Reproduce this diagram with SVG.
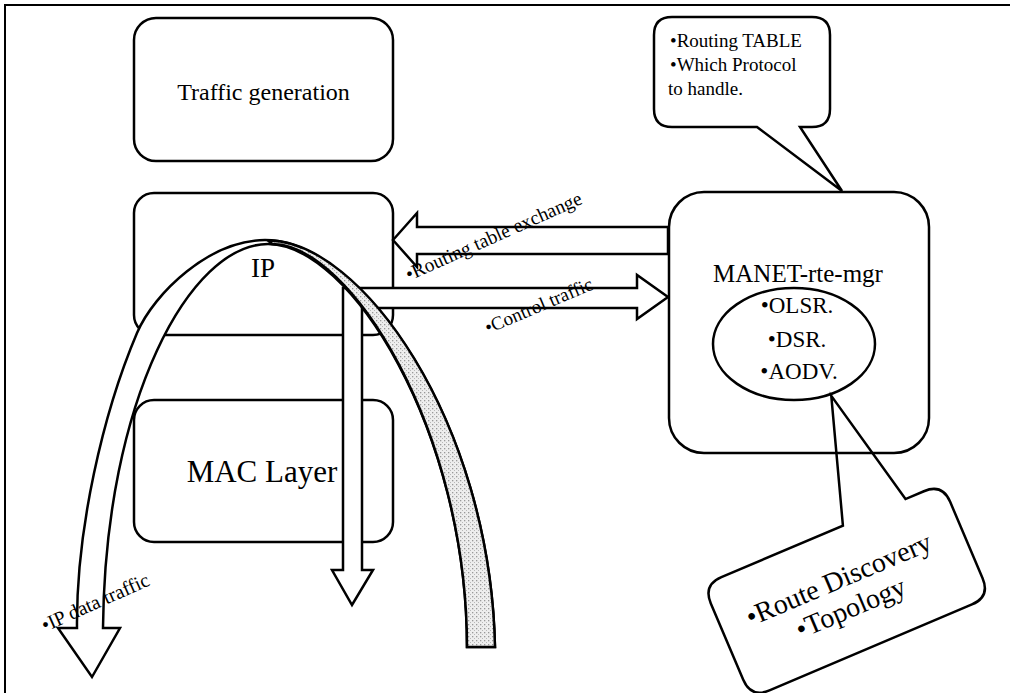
<svg xmlns="http://www.w3.org/2000/svg" width="1010" height="693" viewBox="0 0 1010 693">
<style>
.box{fill:#fff;stroke:#000;stroke-width:2.5}
.open{fill:none;stroke:#000;stroke-width:2.5}
.ln{fill:#fff;stroke:#000;stroke-width:2.5;stroke-linejoin:miter}
text{font-family:"Liberation Serif","Times New Roman",serif;fill:#000}
</style>
<defs>
<pattern id="stip" width="4" height="4" patternUnits="userSpaceOnUse">
<rect width="4" height="4" fill="#eeeeee"/>
<rect width="1.3" height="1.3" fill="#999"/>
<rect x="2" y="2" width="1" height="1" fill="#b8b8b8"/>
</pattern>
</defs>
<rect width="1010" height="693" fill="#fff"/>
<g id="frame"><path d="M5,693 V5 H1010" fill="none" stroke="#000" stroke-width="2"/></g>

<g id="traffic-generation">
<rect class="box" x="134" y="18" width="259" height="143" rx="22"/>
<text x="263.5" y="100" font-size="24" text-anchor="middle">Traffic generation</text>
</g>
<g id="ip">
<rect class="box" x="134" y="193" width="259" height="142" rx="20"/>
</g>
<g id="mac-layer">
<rect class="box" x="134" y="400" width="259" height="142" rx="20"/>
<text x="262" y="482" font-size="31" text-anchor="middle">MAC Layer</text>
</g>

<g id="route-callout">
<path class="box" transform="translate(703,585) rotate(-23)" d="M20,0 H152 L192,-124 L220,0 H240 Q260,0 260,20 V103 Q260,123 240,123 H20 Q0,123 0,103 V20 Q0,0 20,0 Z"/>
<g transform="translate(703,585) rotate(-23)">
<text x="127" y="57" font-size="28" text-anchor="middle">•Route Discovery</text>
<text x="127" y="88" font-size="28" text-anchor="middle">•Topology</text>
</g>
</g>
<g id="table-callout">
<path class="box" d="M672,17 H812 Q830,17 830,35 V109 Q830,127 812,127 H800 L842,191 L757,127 H672 Q654,127 654,109 V35 Q654,17 672,17 Z"/>
<text x="670" y="47" font-size="19">•Routing TABLE</text>
<text x="670" y="71" font-size="19">•Which Protocol</text>
<text x="668" y="95" font-size="19">to handle.</text>
</g>

<g id="connectors">
<path id="routing-exchange" class="ln" d="M393,240 L417,213 L417,227 L668,227 L668,254 L417,254 L417,267 Z"/>
<path id="control-and-down" class="ln" d="M343,288 L637,288 L637,275 L668,297 L637,319 L637,308 L362,308 L362,570 L373,570 L352,605 L332,570 L343,570 Z"/>
<g id="ip-data-arch">
<path class="ln" d="M77,628 C76,530 103,413 137,333 C154,293 210,240 265,240 C360,240 490,420 495,647 L467,647 C467,430 350,244 268,244 C190,244 105,400 103,628 L120,628 L92,677 L58,628 Z"/>
<path d="M268,240.5 C360,240 490,420 495,647 L467,647 C467,430 350,244 272,244 Z" fill="url(#stip)" stroke="#000" stroke-width="2.5"/>
</g>
</g>

<g id="manet-rte-mgr">
<rect class="open" x="669" y="192" width="260" height="261" rx="35"/>
<text x="798" y="282" font-size="25" text-anchor="middle">MANET-rte-mgr</text>
<ellipse class="open" cx="794" cy="344" rx="81" ry="56"/>
<text x="797" y="313" font-size="23" text-anchor="middle">•OLSR.</text>
<text x="797" y="347" font-size="23" text-anchor="middle">•DSR.</text>
<text x="799" y="379" font-size="23" text-anchor="middle">•AODV.</text>
</g>

<g id="ip-label"><text x="263" y="277" font-size="27" text-anchor="middle">IP</text></g>
<g id="labels">
<text transform="translate(409,281) rotate(-24)" font-size="19.5">•Routing table exchange</text>
<text transform="translate(488,334) rotate(-23)" font-size="19">•Control traffic</text>
<text transform="translate(45,632) rotate(-24)" font-size="20">•IP data traffic</text>
</g>
</svg>
